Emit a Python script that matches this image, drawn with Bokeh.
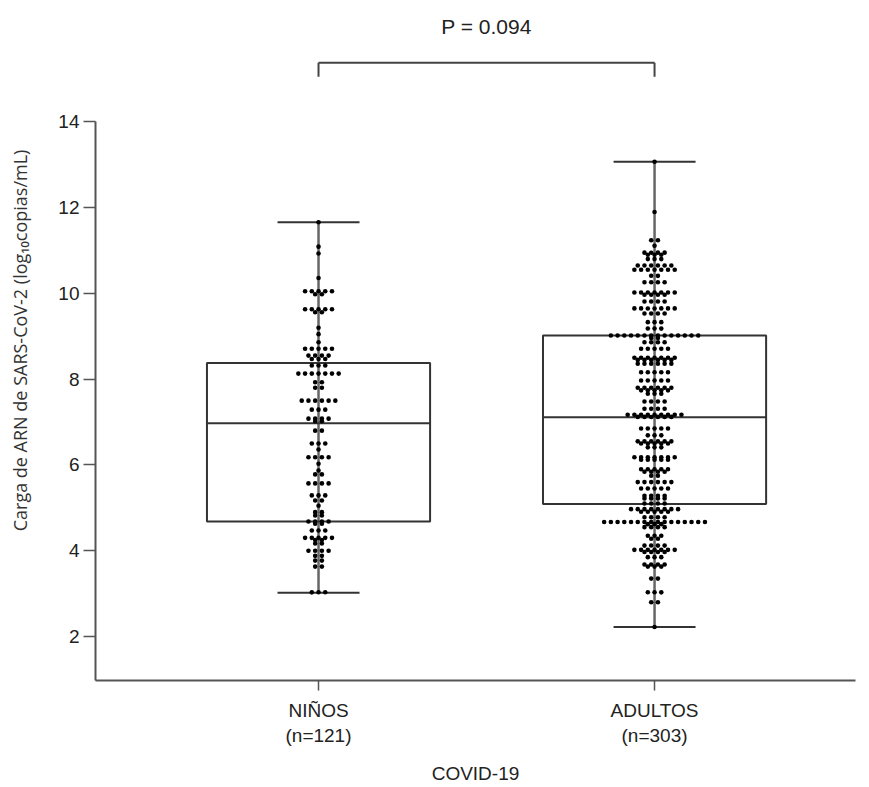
import numpy as np
from bokeh.plotting import figure
from bokeh.models import Range1d, FixedTicker, ColumnDataSource
from bokeh.core.properties import value
from bokeh.embed import file_html
from bokeh.resources import INLINE

# ---------------- data ----------------
categories = ["NIÑOS", "ADULTOS"]
group_n = [121, 303]
tick_labels = ["NIÑOS\n(n=121)", "ADULTOS\n(n=303)"]

# each row of the dot plot: value (log10 copies/mL) and number of dots in that row
ninos_levels = [11.66, 11.09, 10.93, 10.36, 10.05, 9.98, 9.63, 9.56, 9.2, 9.05,
                8.86, 8.71, 8.55, 8.47, 8.32, 8.13, 7.93, 7.8, 7.5, 7.29,
                7.08, 7.02, 6.8, 6.5, 6.36, 6.18, 6.03, 5.87, 5.78, 5.57,
                5.29, 5.17, 5.05, 4.9, 4.82, 4.68, 4.63, 4.47, 4.3, 4.25,
                4.17, 4.0, 3.88, 3.77, 3.63, 3.03]
ninos_counts = [1, 1, 1, 1, 5, 2, 5, 2, 1, 1,
                1, 5, 4, 3, 3, 7, 2, 2, 6, 3,
                4, 2, 2, 3, 1, 4, 1, 1, 2, 4,
                3, 2, 1, 2, 2, 4, 2, 3, 5, 2,
                2, 4, 2, 2, 2, 3]

adultos_levels = [13.07, 11.9, 11.24, 11.11, 10.95, 10.9, 10.8, 10.65, 10.55, 10.41,
                  10.26, 10.02, 9.97, 9.81, 9.65, 9.53, 9.33, 9.18, 9.02, 8.96,
                  8.86, 8.71, 8.5, 8.45, 8.36, 8.16, 7.97, 7.8, 7.74, 7.66,
                  7.48, 7.31, 7.17, 7.12, 6.85, 6.69, 6.55, 6.5, 6.41, 6.18,
                  6.12, 5.9, 5.84, 5.75, 5.6, 5.45, 5.28, 5.22, 5.1, 4.97,
                  4.91, 4.78, 4.67, 4.62, 4.55, 4.35, 4.28, 4.12, 4.02, 3.97,
                  3.85, 3.68, 3.63, 3.35, 3.03, 2.8, 2.22]
adultos_counts = [1, 1, 2, 1, 4, 3, 3, 6, 7, 2,
                  4, 7, 4, 4, 7, 4, 3, 3, 14, 2,
                  4, 5, 7, 6, 6, 5, 5, 6, 5, 3,
                  4, 4, 9, 6, 5, 3, 6, 5, 3, 7,
                  5, 5, 4, 2, 6, 5, 4, 4, 4, 8,
                  5, 4, 16, 3, 4, 3, 2, 4, 7, 4,
                  3, 4, 3, 2, 3, 2, 1]

# box statistics: whisker low, Q1, median, Q3, whisker high
ninos_box = [3.02, 4.68, 6.97, 8.38, 11.66]
adultos_box = [2.22, 5.09, 7.11, 9.02, 13.07]

p_value_text = "P = 0.094"
y_label = "Carga de ARN de SARS-CoV-2 (log₁₀copias/mL)"
x_label = "COVID-19"
y_ticks = [2, 4, 6, 8, 10, 12, 14]

# ---------------- layout ----------------
x_pos = [1, 2]
box_half = 0.332
cap_half = 0.122
dot_dx = 0.02

p = figure(width=869, height=787,
           x_range=Range1d(0.3363, 2.598), y_range=Range1d(0.974, 16.83),
           output_backend="svg", toolbar_location=None,
           min_border_left=95, min_border_right=14,
           min_border_top=0, min_border_bottom=107)
p.outline_line_color = None
p.xgrid.visible = False
p.ygrid.visible = False
p.background_fill_color = "white"
p.border_fill_color = "white"

box_color = "#333333"
axis_color = "#555555"

groups = [(ninos_levels, ninos_counts, ninos_box), (adultos_levels, adultos_counts, adultos_box)]
for xc, (levels, counts, box) in zip(x_pos, groups):
    lo, q1, med, q3, hi = box
    # whisker vertical line
    p.segment(x0=[xc], y0=[lo], x1=[xc], y1=[hi], line_color="#666666", line_width=2.5)
    # caps
    p.segment(x0=[xc - cap_half, xc - cap_half], y0=[lo, hi],
              x1=[xc + cap_half, xc + cap_half], y1=[lo, hi],
              line_color=box_color, line_width=2)
    # box
    p.quad(left=[xc - box_half], right=[xc + box_half], bottom=[q1], top=[q3],
           fill_color=None, line_color=box_color, line_width=2)
    # median
    p.segment(x0=[xc - box_half], y0=[med], x1=[xc + box_half], y1=[med],
              line_color=box_color, line_width=2)
    # dots, arranged in rows (dot-plot layout)
    xs, ys = [], []
    for v, n in zip(levels, counts):
        offs = (np.arange(n) - (n - 1) / 2.0) * dot_dx
        for o in offs:
            xs.append(xc + o)
            ys.append(v)
    src = ColumnDataSource(dict(x=xs, y=ys))
    p.scatter("x", "y", source=src, size=4.6, fill_color="black", line_color=None)

# significance bracket
bracket_top = 15.38
bracket_drop = 15.05
p.segment(x0=[x_pos[0], x_pos[0], x_pos[1]], y0=[bracket_top, bracket_top, bracket_top],
          x1=[x_pos[1], x_pos[0], x_pos[1]], y1=[bracket_top, bracket_drop, bracket_drop],
          line_color="#444444", line_width=2)
p.text(x=[(x_pos[0] + x_pos[1]) / 2.0], y=[16.22], text=[p_value_text],
       text_align="center", text_baseline="middle",
       text_font=value("Liberation Sans"), text_font_size="21px", text_color="#222222")

# axes
p.yaxis.ticker = FixedTicker(ticks=y_ticks)
p.yaxis.bounds = (0.974, 14)
p.yaxis.minor_tick_line_color = None
p.yaxis.major_tick_out = 12
p.yaxis.major_tick_in = 0
p.yaxis.major_label_standoff = 4
p.yaxis.axis_line_color = axis_color
p.yaxis.axis_line_width = 2
p.yaxis.major_tick_line_color = axis_color
p.yaxis.major_tick_line_width = 1.5
p.yaxis.major_label_text_font = "Liberation Sans"
p.yaxis.major_label_text_font_size = "19px"
p.yaxis.major_label_text_color = "#222222"
p.yaxis.axis_label = y_label
p.yaxis.axis_label_text_font = "Open Sans"
p.yaxis.axis_label_text_font_style = "normal"
p.yaxis.axis_label_text_font_size = "18px"
p.yaxis.axis_label_text_color = "#333333"
p.yaxis.axis_label_standoff = 23

p.xaxis.ticker = FixedTicker(ticks=x_pos)
p.xaxis.major_label_overrides = {x: lab for x, lab in zip(x_pos, tick_labels)}
p.xaxis.minor_tick_line_color = None
p.xaxis.major_tick_out = 10
p.xaxis.major_tick_in = 0
p.xaxis.major_label_standoff = 9
p.xaxis.axis_line_color = axis_color
p.xaxis.axis_line_width = 2
p.xaxis.major_tick_line_color = axis_color
p.xaxis.major_tick_line_width = 1.5
p.xaxis.major_label_text_font = "Liberation Sans"
p.xaxis.major_label_text_font_size = "19px"
p.xaxis.major_label_text_color = "#222222"
p.xaxis.axis_label = x_label
p.xaxis.axis_label_text_font = "Liberation Sans"
p.xaxis.axis_label_text_font_style = "normal"
p.xaxis.axis_label_text_font_size = "19px"
p.xaxis.axis_label_text_color = "#222222"
p.xaxis.axis_label_standoff = 14

open("out.html", "w").write(file_html(p, INLINE))
